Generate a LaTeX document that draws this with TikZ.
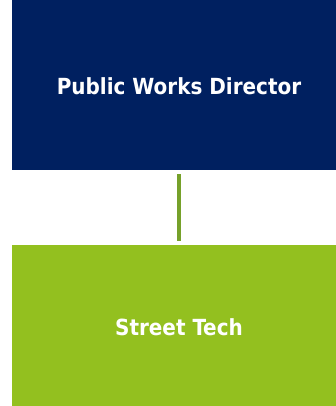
\documentclass[tikz,border=0pt]{standalone}
\usepackage{fontspec}
\setmainfont{DejaVu Sans Condensed}[BoldFont={DejaVu Sans Condensed Bold}]
\definecolor{navy}{HTML}{002060}
\definecolor{leaf}{HTML}{93C01F}
\definecolor{olive}{HTML}{76A12A}
\begin{document}
\begin{tikzpicture}[x=1pt,y=1pt,
  box/.style={rectangle, inner sep=0pt, minimum width=334pt, text=white,
    font=\fontsize{22.2}{24}\selectfont\bfseries, text height=20pt, text depth=0pt},
  link/.style={draw=olive, line width=4pt, shorten <=4pt, shorten >=4pt}]
\useasboundingbox (0,0) rectangle (335,406);
\fill[white] (0,0) rectangle (335,406);
\node[box, fill=navy, minimum height=170pt] (dir) at (179,321) {Public Works Director};
\node[box, fill=leaf, minimum height=161pt] (tech) at (179,80.5) {Street Tech};
\draw[link] (dir.south) -- (tech.north);
\end{tikzpicture}
\end{document}
